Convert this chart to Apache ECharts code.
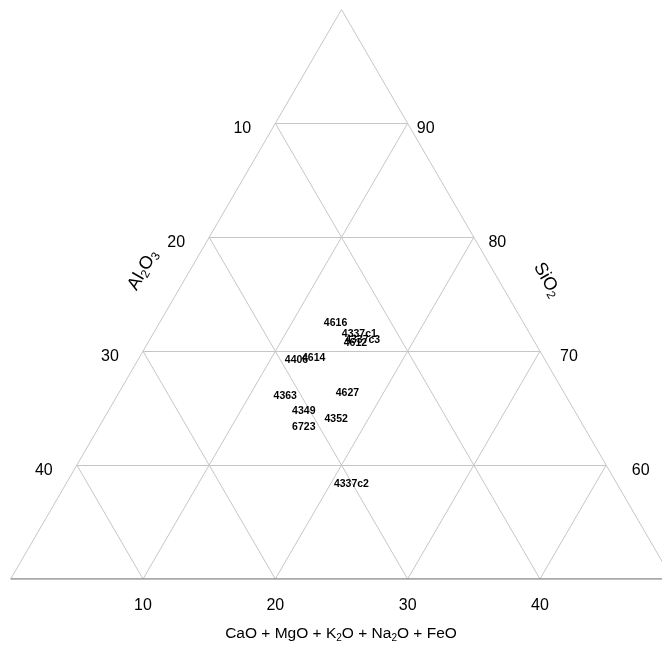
<!DOCTYPE html>
<html>
<head>
<meta charset="utf-8">
<script src="https://cdn.jsdelivr.net/npm/echarts@6/dist/echarts.min.js"></script>
<style>html,body{margin:0;padding:0;background:#fff;}#c{width:662px;height:646px;}</style>
</head>
<body>
<div id="c"></div>
<script>
// Sample names
const samples = ['4616', '4337c1', '4337c3', '4612', '4406', '4614', '4363', '4627', '4349', '6723', '4352', '4337c2'];
// SiO2 (wt%, normalised)
const sio2 = [72.5, 71.5, 71.0, 70.7, 69.2, 69.4, 66.1, 66.3, 64.7, 63.3, 64.0, 58.3];
// Al2O3 (wt%, normalised)
const al2o3 = [14.2, 12.9, 12.9, 13.6, 18.8, 17.4, 21.2, 16.4, 20.5, 21.2, 18.4, 20.1];
// CaO + MgO + K2O + Na2O + FeO = 100 - SiO2 - Al2O3
const bottomTicks = [10, 20, 30, 40];
const al2o3Ticks = [10, 20, 30, 40];
const sio2Ticks = [90, 80, 70, 60];
const gridSteps = [10, 20, 30, 40];

const H = Math.sqrt(3) / 2;
// ternary (SiO2, CaO-sum) -> cartesian in the upper sub-triangle (SiO2 50..100)
function toXY(s, c) { return [c + (s - 50) / 2, (s - 50) * H]; }

const gridLines = [];
// constant SiO2
gridSteps.forEach(function (g) {
  const s = 50 + g;
  gridLines.push({ coords: [toXY(s, 0), toXY(s, 100 - s)] });
});
// constant CaO-sum
gridSteps.forEach(function (c) {
  gridLines.push({ coords: [toXY(50, c), toXY(100 - c, c)] });
});
// constant Al2O3
gridSteps.forEach(function (a) {
  gridLines.push({ coords: [toXY(50, 50 - a), toXY(100 - a, 0)] });
});
// left and right edges
gridLines.push({ coords: [toXY(50, 0), toXY(100, 0)] });
gridLines.push({ coords: [toXY(50, 50), toXY(100, 0)] });

const pts = samples.map(function (n, i) {
  const c = 100 - sio2[i] - al2o3[i];
  return { name: n, value: toXY(sio2[i], c) };
});

const FF = 'Liberation Sans, Arial, sans-serif';
const tickFont = { fontFamily: FF, fontSize: 16, color: '#000' };

const bottomTickData = bottomTicks.map(function (t) {
  return { value: toXY(50, t), label: Object.assign({ formatter: String(t), offset: [0, 27] }, tickFont) };
});
const leftTickData = al2o3Ticks.map(function (a) {
  return { value: toXY(100 - a, 0), label: Object.assign({ formatter: String(a), offset: [-33, 5] }, tickFont) };
});
const rightTickData = sio2Ticks.map(function (s) {
  return { value: toXY(s, 100 - s), label: Object.assign({ formatter: String(s), offset: [18 + (90 - s) * 0.55, 5] }, tickFont) };
});

const chart = echarts.init(document.getElementById('c'), null, { renderer: 'canvas' });
const sub = { fontFamily: FF, fontSize: 10, lineHeight: 10, verticalAlign: 'bottom', fill: '#000' };
const norm = { fontFamily: FF, fontSize: 15.5, lineHeight: 19, fill: '#000' };
chart.setOption({
  backgroundColor: '#fff',
  animation: false,
  grid: { left: 10.7, top: 9.5, width: 661.6, height: 569.5, outerBoundsMode: 'none', containLabel: false },
  xAxis: { type: 'value', min: 0, max: 50, show: false },
  yAxis: { type: 'value', min: 0, max: 25 * Math.sqrt(3), show: false },
  series: [
    {
      type: 'lines', coordinateSystem: 'cartesian2d', silent: true,
      lineStyle: { color: '#c6c6c6', width: 1, opacity: 1 },
      data: gridLines
    },
    {
      type: 'lines', coordinateSystem: 'cartesian2d', silent: true,
      lineStyle: { color: '#8c8c8c', width: 1.5, opacity: 1 },
      data: [{ coords: [toXY(50, 0), toXY(50, 50)] }]
    },
    {
      type: 'scatter', symbolSize: 0, silent: true,
      itemStyle: { opacity: 1 },
      label: { show: true, position: 'inside', color: '#000' },
      data: bottomTickData.concat(leftTickData, rightTickData)
    },
    {
      type: 'scatter', symbolSize: 0, silent: true,
      itemStyle: { opacity: 1 },
      label: {
        show: true, position: 'inside', formatter: '{b}',
        fontFamily: FF, fontSize: 10.5, fontWeight: 'bold', color: '#000'
      },
      data: pts
    }
  ],
  graphic: [
    {
      type: 'text', x: 341, y: 634,
      style: {
        text: '{n|CaO + MgO + K}{s|2}{n|O + Na}{s|2}{n|O + FeO}',
        rich: { n: norm, s: sub },
        align: 'center', verticalAlign: 'middle'
      }
    },
    {
      type: 'text', x: 143, y: 270, rotation: Math.PI / 3,
      style: {
        text: '{n|Al}{s|2}{n|O}{s|3}',
        rich: { n: Object.assign({}, norm, { fontSize: 18, lineHeight: 21 }), s: Object.assign({}, sub, { fontSize: 12, lineHeight: 12 }) },
        align: 'center', verticalAlign: 'middle'
      }
    },
    {
      type: 'text', x: 547, y: 280, rotation: -Math.PI / 3,
      style: {
        text: '{n|SiO}{s|2}',
        rich: { n: Object.assign({}, norm, { fontSize: 18, lineHeight: 21 }), s: Object.assign({}, sub, { fontSize: 12, lineHeight: 12 }) },
        align: 'center', verticalAlign: 'middle'
      }
    }
  ]
});
</script>
</body>
</html>
